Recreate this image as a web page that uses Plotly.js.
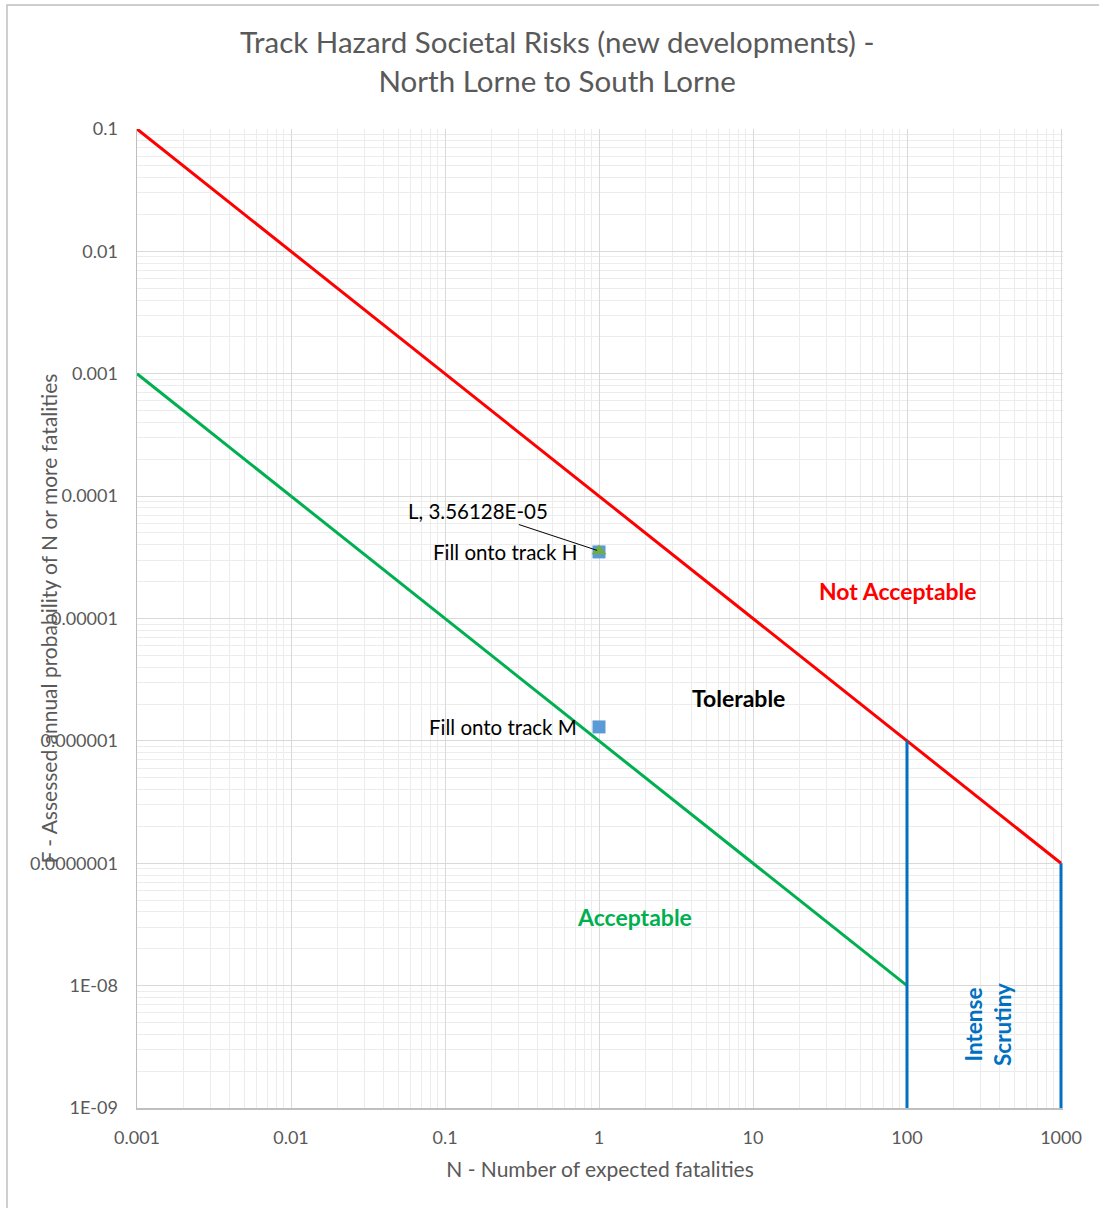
<!DOCTYPE html>
<html>
<head>
<meta charset="utf-8">
<script src="https://cdn.plot.ly/plotly-3.0.1.min.js"></script>
<style>
  html, body { margin: 0; padding: 0; background: #ffffff; }
  #chart { width: 1099px; height: 1208px; }
</style>
</head>
<body>
<div id="chart"></div>
<script>
// ---- Data ----
const notAcceptableN = [0.001, 1000];
const notAcceptableF = [0.1, 1e-7];
const acceptableN = [0.001, 100];
const acceptableF = [0.001, 1e-8];
const scrutinyLeftN = [100, 100];
const scrutinyLeftF = [1e-6, 1e-9];
const scrutinyRightN = [1000, 1000];
const scrutinyRightF = [1e-7, 1e-9];

const hazardNames = ["Fill onto track H", "Fill onto track M"];
const hazardN = [1, 1];
const hazardF = [3.5e-5, 1.3e-6];

const seriesLName = "L";
const seriesLN = [1];
const seriesLF = [3.56128e-5];
const seriesLLabel = "L, 3.56128E-05";

const xTickVals = [0.001, 0.01, 0.1, 1, 10, 100, 1000];
const xTickText = ["0.001", "0.01", "0.1", "1", "10", "100", "1000"];
const yTickVals = [0.1, 0.01, 0.001, 0.0001, 0.00001, 0.000001, 0.0000001, 1e-8, 1e-9];
const yTickText = ["0.1", "0.01", "0.001", "0.0001", "0.00001", "0.000001", "0.0000001", "1E-08", "1E-09"];

const regionLabels = [
  {text: "Not Acceptable", n: 88, f: 1.68e-5, color: "#ff0000"},
  {text: "Tolerable", n: 8.1, f: 2.25e-6, color: "#000000"},
  {text: "Acceptable", n: 1.69, f: 3.64e-8, color: "#00b050"}
];
const scrutinyLabel = {text: "Intense<br>Scrutiny", n: 336, f: 4.77e-9, color: "#0070c0"};

const FONT = "Lato, 'Open Sans', sans-serif";

const traces = [
  {x: notAcceptableN, y: notAcceptableF, mode: "lines", line: {color: "#ff0000", width: 3}, cliponaxis: false, hoverinfo: "skip"},
  {x: acceptableN, y: acceptableF, mode: "lines", line: {color: "#00b050", width: 3}, cliponaxis: false, hoverinfo: "skip"},
  {x: scrutinyLeftN, y: scrutinyLeftF, mode: "lines", line: {color: "#0070c0", width: 3}, cliponaxis: false, hoverinfo: "skip"},
  {x: scrutinyRightN, y: scrutinyRightF, mode: "lines", line: {color: "#0070c0", width: 3}, cliponaxis: false, hoverinfo: "skip"},
  {x: hazardN, y: hazardF, mode: "markers", marker: {symbol: "square", size: 13, color: "#5b9bd5"}, cliponaxis: false},
  {x: seriesLN, y: seriesLF, mode: "markers", marker: {symbol: "triangle-up", size: 13, color: "#70ad47"}, cliponaxis: false}
];

const annotations = [];
hazardNames.forEach((t, i) => {
  annotations.push({
    x: Math.log10(hazardN[i]), y: Math.log10(hazardF[i]), xref: "x", yref: "y",
    text: t, showarrow: false, xanchor: "right", yanchor: "middle", xshift: -20,
    font: {family: FONT, size: 20.5, color: "#000000"}
  });
});
annotations.push({
  x: Math.log10(seriesLN[0]), y: Math.log10(seriesLF[0]), xref: "x", yref: "y",
  text: seriesLLabel,
  showarrow: true, arrowhead: 0, arrowwidth: 1, arrowcolor: "#000000",
  ax: -121, ay: -40, standoff: 2,
  font: {family: FONT, size: 20.5, color: "#000000"}
});
regionLabels.forEach(r => {
  annotations.push({
    x: Math.log10(r.n), y: Math.log10(r.f), xref: "x", yref: "y",
    text: "<b>" + r.text + "</b>", showarrow: false,
    font: {family: FONT, size: 23, color: r.color}
  });
});
annotations.push({
  x: Math.log10(scrutinyLabel.n), y: Math.log10(scrutinyLabel.f), xref: "x", yref: "y",
  text: "<b>" + scrutinyLabel.text + "</b>", showarrow: false, textangle: -90,
  font: {family: FONT, size: 22.5, color: scrutinyLabel.color}
});
annotations.push({
  x: -0.096, y: 0.50, xref: "paper", yref: "paper", xanchor: "center", yanchor: "middle",
  text: "F - Assessed annual probability of N or more fatalities", showarrow: false,
  textangle: -90, font: {family: FONT, size: 21, color: "#595959"}
});

const layout = {
  width: 1099, height: 1208,
  margin: {l: 137, r: 36, t: 129, b: 100},
  paper_bgcolor: "#ffffff", plot_bgcolor: "#ffffff",
  showlegend: false,
  font: {family: FONT, color: "#595959"},
  title: {
    text: "Track Hazard Societal Risks (new developments) -<br>North Lorne to South Lorne",
    x: 0.507, xanchor: "center", y: 0.956, yanchor: "middle",
    font: {family: FONT, size: 29.5, color: "#595959"}
  },
  xaxis: {
    type: "log", range: [-3, 3.013], tickmode: "array", tickvals: xTickVals, ticktext: xTickText,
    showgrid: true, gridcolor: "#d9d9d9", gridwidth: 1,
    minor: {dtick: "D1", showgrid: true, gridcolor: "#ececec", gridwidth: 1},
    showline: true, linecolor: "#bfbfbf", linewidth: 1.5, mirror: false,
    zeroline: false, ticks: "", ticklabelstandoff: 13,
    tickfont: {family: FONT, size: 18, color: "#595959"},
    title: {text: "N - Number of expected fatalities", font: {family: FONT, size: 21, color: "#595959"}, standoff: 15},
    automargin: false
  },
  yaxis: {
    type: "log", range: [-9, -1], tickmode: "array", tickvals: yTickVals, ticktext: yTickText,
    showgrid: true, gridcolor: "#d9d9d9", gridwidth: 1,
    minor: {dtick: "D1", showgrid: true, gridcolor: "#ececec", gridwidth: 1},
    showline: true, linecolor: "#bfbfbf", linewidth: 1.5, mirror: false,
    zeroline: false, ticks: "", ticklabelstandoff: 14,
    tickfont: {family: FONT, size: 18, color: "#595959"},
    automargin: false
  },
  annotations: annotations,
  shapes: [{
    type: "rect", xref: "paper", yref: "paper",
    x0: -0.1404, x1: 1.2, y0: -0.2, y1: 1.1267,
    line: {color: "#bfbfbf", width: 1.5}, fillcolor: "rgba(0,0,0,0)", layer: "below"
  }]
};

Plotly.newPlot("chart", traces, layout, {displayModeBar: false, staticPlot: true});
</script>
</body>
</html>
